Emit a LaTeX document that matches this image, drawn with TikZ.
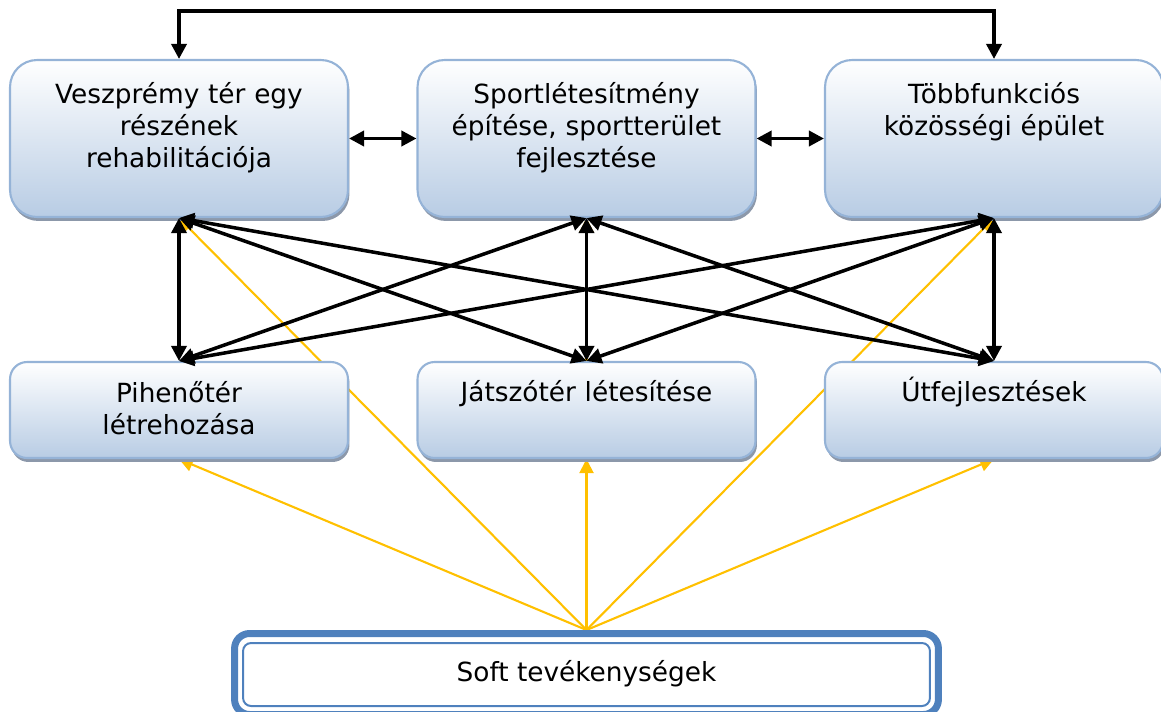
\documentclass[tikz,border=0pt]{standalone}
\usepackage{fontspec}
\setmainfont{DejaVu Sans}
\usetikzlibrary{arrows.meta,shadows,backgrounds}
\definecolor{boxline}{RGB}{149,179,215}
\definecolor{boxfill}{RGB}{184,204,228}
\definecolor{boxshade}{RGB}{140,152,170}
\definecolor{softblue}{RGB}{79,129,189}
\definecolor{linkorange}{RGB}{255,192,0}
\begin{document}
\begin{tikzpicture}[x = 0.02cm, y = -0.02cm,
    box/.style = {draw = boxline, line width = 1.2pt, top color = white, bottom color = boxfill,
      minimum width = 6.76cm, drop shadow = {shadow xshift = 0.03cm, shadow yshift = -0.08cm, fill = boxshade, opacity = 1}},
    bigbox/.style = {box, rounded corners = 0.54cm, minimum height = 3.14cm},
    smallbox/.style = {box, rounded corners = 0.34cm, minimum height = 1.92cm},
    txt/.style = {anchor = base, text width = 6.4cm, align = center, inner sep = 0pt, font = \fontsize{15}{18.2}\selectfont},
    link/.style = {line width = 2pt, arrows = {Triangle[length = 0.3cm, width = 0.3cm]-Triangle[length = 0.3cm, width = 0.3cm]}},
    softlink/.style = {line width = 1.2pt, linkorange, arrows = {-Triangle[length = 0.28cm, width = 0.28cm]}}]
  \useasboundingbox (0, 0) rectangle (1161, 711);

  \foreach \n/\x in {t1/179, t2/586.5, t3/994}
    \node[bigbox] (\n) at (\x, 138.5) {};
  \foreach \n/\x in {b1/179, b2/586.5, b3/994}
    \node[smallbox] (\n) at (\x, 410) {};

  \node[txt] (t1txt) at ([yshift = -0.9cm]t1.north) {Veszprémy tér egy\\részének\\rehabilitációja};
  \node[txt] (t2txt) at ([yshift = -0.9cm]t2.north) {Sportlétesítmény\\építése, sportterület\\fejlesztése};
  \node[txt] (t3txt) at ([yshift = -0.9cm]t3.north) {Többfunkciós\\közösségi épület};
  \node[txt] (b1txt) at ([yshift = -0.84cm]b1.north) {Pihenőtér\\létrehozása};
  \node[txt] (b2txt) at ([yshift = -0.82cm]b2.north) {Játszótér létesítése};
  \node[txt] (b3txt) at ([yshift = -0.82cm]b3.north) {Útfejlesztések};

  \node[draw = softblue, line width = 0.14cm, rounded corners = 0.3cm, minimum width = 14.08cm, minimum height = 1.62cm,
    font = \fontsize{15}{18.2}\selectfont] (soft) at (586.5, 674) {Soft tevékenységek};
  \draw[softblue, line width = 0.04cm, rounded corners = 0.16cm]
    ([shift = {(0.24cm, -0.26cm)}]soft.north west) rectangle ([shift = {(-0.24cm, 0.24cm)}]soft.south east);

  \draw[link] (t1.north) -- ++(0, -48) -| (t3.north);
  \draw[link] (t1.east) -- (t2.west);
  \draw[link] (t2.east) -- (t3.west);
  \foreach \i in {1, 2, 3}
    \foreach \j in {1, 2, 3}
      \draw[link] (t\i.south) -- (b\j.north);

  \begin{scope}[on background layer]
    \foreach \n in {t1, t2, t3, b1, b2, b3}
      \draw[softlink] (soft.north) -- (\n.south);
  \end{scope}
\end{tikzpicture}
\end{document}
